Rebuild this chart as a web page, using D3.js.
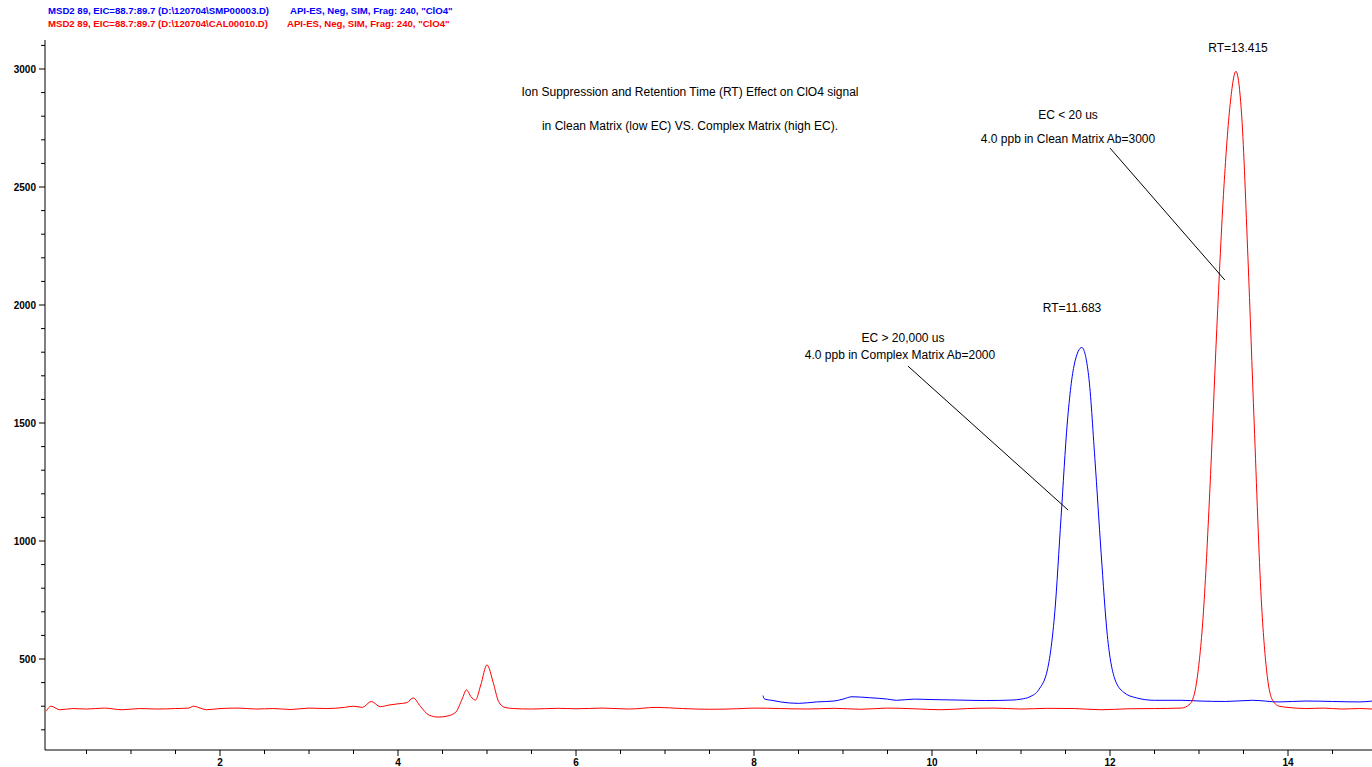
<!DOCTYPE html>
<html><head><meta charset="utf-8">
<script src="https://cdn.jsdelivr.net/npm/d3@7"></script>
<style>body{margin:0;background:#fff}text{font-family:"Liberation Sans",Arial,sans-serif}</style>
</head><body>
<svg id="c" width="1372" height="767"></svg>
<script>
const redT = [0.05,0.1,0.2,0.35,0.5,0.7,0.9,1.1,1.3,1.5,1.65,1.7,1.85,2.0,2.2,2.4,2.6,2.8,3.0,3.2,3.4,3.5,3.6,3.7,3.8,3.9,4.0,4.1,4.17,4.25,4.35,4.45,4.55,4.65,4.72,4.77,4.82,4.87,4.93,5.0,5.07,5.13,5.2,5.3,5.5,5.8,6.0,6.3,6.6,6.9,7.2,7.5,7.8,8.0,8.3,8.6,8.9,9.2,9.5,9.8,10.1,10.4,10.7,11.0,11.3,11.6,11.9,12.2,12.5,12.8,12.9,12.98,13.05,13.12,13.2,13.28,13.35,13.415,13.48,13.55,13.62,13.7,13.76,13.82,13.9,14.0,14.2,14.4,14.6,14.8,14.95];
const redV = [280,300,285,290,288,292,285,290,288,290,292,300,285,290,292,288,290,286,292,290,295,300,295,320,298,305,310,315,335,300,262,254,258,275,330,369,340,326,390,475,400,320,295,290,288,291,289,292,288,295,290,287,289,292,290,288,291,287,292,289,285,290,292,288,291,290,285,289,290,292,310,420,700,1200,1900,2500,2850,2990,2800,2200,1500,750,450,330,300,295,290,292,288,290,288];
const blueT = [8.1,8.12,8.2,8.3,8.5,8.7,8.9,9.0,9.1,9.3,9.5,9.6,9.8,10.0,10.3,10.6,10.9,11.0,11.1,11.2,11.3,11.38,11.45,11.52,11.6,11.683,11.76,11.83,11.9,11.97,12.05,12.15,12.3,12.5,12.8,13.0,13.3,13.6,13.9,14.2,14.5,14.8,14.95];
const blueV = [345,330,325,318,312,318,322,330,340,336,330,325,330,328,326,324,326,330,340,370,460,700,1100,1500,1750,1820,1700,1350,950,600,420,360,335,325,325,322,320,325,318,322,320,318,322];
const yTicks = [500,1000,1500,2000,2500,3000];
const xTicks = [2,4,6,8,10,12,14];

const svg = d3.select("#c");
const x = d3.scaleLinear().domain([0,15]).range([42,42+89*15]);
const y = d3.scaleLinear().domain([0,500]).range([777,659]);
const x0=45, yb=750, yt=40;

svg.append("line").attr("x1",x0).attr("x2",x0).attr("y1",yt).attr("y2",yb).attr("stroke","#000");
svg.append("line").attr("x1",x0).attr("x2",1372).attr("y1",yb).attr("y2",yb).attr("stroke","#000");
for(let v=200; v<=3100; v+=100){
  const maj = v%500===0;
  svg.append("line").attr("x1",x0-(maj?6:4)).attr("x2",x0).attr("y1",y(v)).attr("y2",y(v)).attr("stroke","#000");
}
yTicks.forEach(v=>svg.append("text").attr("x",x0-9).attr("y",y(v)+4).attr("text-anchor","end").attr("font-size",10).attr("font-weight","bold").text(v));
for(let v=0.5; v<15; v+=0.5){
  const maj = v%2===0;
  svg.append("line").attr("x1",x(v)).attr("x2",x(v)).attr("y1",yb).attr("y2",yb+(maj?6:4)).attr("stroke","#000");
}
xTicks.forEach(v=>svg.append("text").attr("x",x(v)).attr("y",yb+16).attr("text-anchor","middle").attr("font-size",10).attr("font-weight","bold").text(v));

const line = d3.line().x(d=>x(d[0])).y(d=>y(d[1])).curve(d3.curveMonotoneX);
svg.append("path").attr("d",line(blueT.map((t,i)=>[t,blueV[i]]))).attr("fill","none").attr("stroke","#0000ff").attr("stroke-width",1);
svg.append("path").attr("d",line(redT.map((t,i)=>[t,redV[i]]))).attr("fill","none").attr("stroke","#ff0000").attr("stroke-width",1);

const hdr=[["MSD2 89, EIC=88.7:89.7 (D:\\120704\\SMP00003.D)","API-ES, Neg, SIM, Frag: 240, \"ClO4\"","#0000ff",14,290],
           ["MSD2 89, EIC=88.7:89.7 (D:\\120704\\CAL00010.D)","API-ES, Neg, SIM, Frag: 240, \"ClO4\"","#ff0000",27,287]];
hdr.forEach(h=>{
  svg.append("text").attr("x",48).attr("y",h[3]).attr("font-size",9.6).attr("font-weight","bold").attr("fill",h[2]).text(h[0]);
  svg.append("text").attr("x",h[4]).attr("y",h[3]).attr("font-size",9.6).attr("font-weight","bold").attr("fill",h[2]).text(h[1]);
});
const T=(tx,ty,s)=>svg.append("text").attr("x",tx).attr("y",ty).attr("text-anchor","middle").attr("font-size",12).attr("fill","#000").text(s);
T(690,96,"Ion Suppression and Retention Time (RT) Effect on ClO4 signal");
T(690,130,"in Clean Matrix (low EC) VS. Complex Matrix (high EC).");
T(1238,52,"RT=13.415");
T(1068,119,"EC < 20 us");
T(1068,143,"4.0 ppb in Clean Matrix Ab=3000");
T(1072,312,"RT=11.683");
T(903,342,"EC > 20,000 us");
T(900,359,"4.0 ppb in Complex Matrix Ab=2000");
const L=(a,b,c,d)=>svg.append("line").attr("x1",x(a)).attr("y1",y(b)).attr("x2",x(c)).attr("y2",y(d)).attr("stroke","#000");
L(12.0,2665,13.29,2106);
L(9.73,1741,11.53,1131);
</script></body></html>
